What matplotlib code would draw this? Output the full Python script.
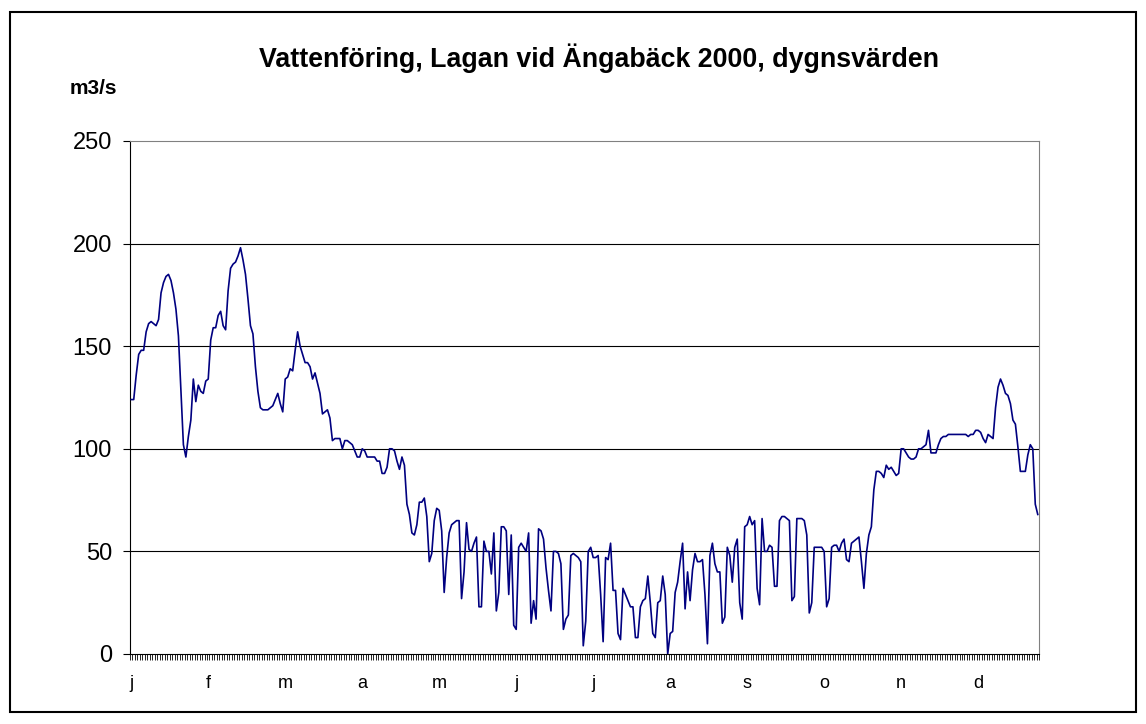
import matplotlib
matplotlib.use('Agg')
import matplotlib.pyplot as plt
from matplotlib.patches import Rectangle
from matplotlib.ticker import FixedLocator, NullFormatter

# dygnsvärden (m3/s), en lista per månad
jan = [124, 124, 136, 146, 148, 148, 157, 161, 162, 161, 160, 163, 176, 181, 184, 185,
       182, 176, 168, 155, 128, 102, 96, 106, 114, 134, 123, 131, 128, 127, 133]
feb = [134, 153, 159, 159, 165, 167, 160, 158, 177, 188, 190, 191, 194, 198, 192, 185,
       173, 160, 156, 140, 128, 120, 119, 119, 119, 120, 121, 124, 127]
mar = [122, 118, 134, 135, 139, 138, 148, 157, 150, 146, 142, 142, 140, 134, 137, 132,
       127, 117, 118, 119, 115, 104, 105, 105, 105, 100, 104, 104, 103, 102, 99]
apr = [96, 96, 100, 99, 96, 96, 96, 96, 94, 94, 88, 88, 91, 100, 100, 99, 94, 90, 96, 92,
       73, 68, 59, 58, 63, 74, 74, 76, 67, 45]
maj = [49, 65, 71, 70, 60, 30, 47, 59, 63, 64, 65, 65, 27, 40, 64, 51, 50, 54, 57, 23,
       23, 55, 50, 50, 39, 59, 21, 30, 62, 62, 60]
jun = [29, 58, 14, 12, 52, 54, 52, 50, 59, 15, 26, 17, 61, 60, 56, 42, 31, 21, 50, 50,
       49, 44, 12, 17, 19, 48, 49, 48, 47, 45]
jul = [4, 16, 50, 52, 47, 47, 48, 29, 6, 47, 46, 54, 31, 31, 10, 7, 32, 29, 26, 23,
       23, 8, 8, 23, 26, 27, 38, 25, 10, 8, 25]
aug = [26, 38, 29, 0, 10, 11, 30, 35, 45, 54, 22, 40, 26, 41, 49, 45, 45, 46, 29, 5,
       48, 54, 44, 40, 40, 15, 18, 52, 48, 35, 52]
sep = [56, 25, 17, 62, 63, 67, 63, 65, 32, 24, 66, 50, 50, 53, 52, 33, 33, 65, 67, 67,
       66, 65, 26, 28, 66, 66, 66, 65, 58, 20]
okt = [25, 52, 52, 52, 52, 50, 23, 27, 52, 53, 53, 50, 54, 56, 46, 45, 54, 55, 56, 57,
       45, 32, 49, 58, 62, 80, 89, 89, 88, 86, 92]
nov = [90, 91, 89, 87, 88, 100, 100, 98, 96, 95, 95, 96, 100, 100, 101, 102, 109, 98, 98, 98,
       102, 105, 106, 106, 107, 107, 107, 107, 107, 107]
dec = [107, 107, 106, 107, 107, 109, 109, 108, 105, 103, 107, 106, 105, 120, 130, 134,
       131, 127, 126, 122, 114, 112, 101, 89, 89, 89, 97, 102, 100, 73, 68]

month_labels = ['j', 'f', 'm', 'a', 'm', 'j', 'j', 'a', 's', 'o', 'n', 'd']
y_ticks = [0, 50, 100, 150, 200, 250]

flow = jan + feb + mar + apr + maj + jun + jul + aug + sep + okt + nov + dec
days = list(range(len(flow)))

plt.rcParams['font.family'] = ['Liberation Sans', 'DejaVu Sans']

fig = plt.figure(figsize=(11.46, 7.24), dpi=100)
ax = fig.add_axes([130 / 1146, 1 - 654 / 724, 909 / 1146, 513 / 724])

ax.plot(days, flow, color='#000080', lw=1.2, zorder=3)

ax.set_xlim(-0.5, len(flow) - 0.5)
ax.set_ylim(0, 250)

# gridlinjer
for v in y_ticks[1:-1]:
    ax.axhline(v, color='black', lw=0.8, zorder=1)

ax.set_yticks(y_ticks)
ax.set_yticklabels([str(v) for v in y_ticks], fontsize=17)
ax.tick_params(axis='y', length=5, width=0.8, pad=8, color='black')

# kategoriaxel: etikett var 31:a dag, streck vid varje dag
ax.set_xticks([31 * i for i in range(len(month_labels))])
ax.set_xticklabels(month_labels, fontsize=13)
ax.tick_params(axis='x', which='major', length=0, pad=15)
ax.xaxis.set_minor_locator(FixedLocator([i - 0.5 for i in range(len(flow) + 1)]))
ax.xaxis.set_minor_formatter(NullFormatter())
ax.tick_params(axis='x', which='minor', length=4, width=0.6, color='black')

ax.spines['left'].set_color('black')
ax.spines['bottom'].set_color('black')
ax.spines['top'].set_color('#808080')
ax.spines['right'].set_color('#808080')
for s in ax.spines.values():
    s.set_linewidth(0.8)

fig.text(599 / 1146, 1 - 58 / 724, 'Vattenföring, Lagan vid Ängabäck 2000, dygnsvärden',
         ha='center', va='center', fontsize=19.3, fontweight='bold')
fig.text(70 / 1146, 1 - 89 / 724, 'm3/s', ha='left', va='center', fontsize=15,
         fontweight='bold')

# ram runt hela diagrammet
fig.patches.append(Rectangle((10 / 1146, 12 / 724), 1126 / 1146, 700 / 724,
                             transform=fig.transFigure, fill=False,
                             edgecolor='black', lw=1.5))

fig.savefig('out.png', dpi=100)
